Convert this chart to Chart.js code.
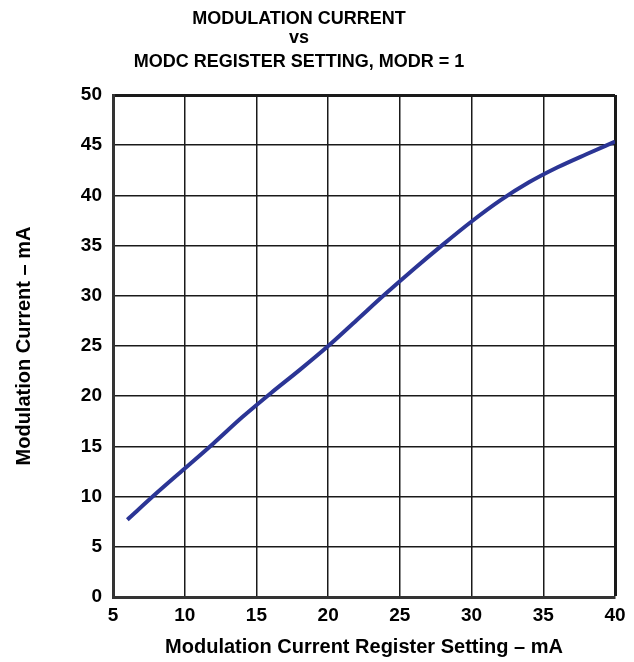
<!DOCTYPE html>
<html>
<head>
<meta charset="utf-8">
<script src="https://cdn.jsdelivr.net/npm/chart.js@4"></script>
<style>
  html, body { margin: 0; padding: 0; background: #fff; }
  #wrap { width: 634px; height: 662px; }
</style>
</head>
<body>
<div id="wrap"><canvas id="c" width="634" height="662"></canvas></div>
<script>
const titleLines = ['MODULATION CURRENT', 'vs', 'MODC REGISTER SETTING, MODR = 1'];
const xAxisTitle = 'Modulation Current Register Setting \u2013 mA';
const yAxisTitle = 'Modulation Current \u2013 mA';
const registerSetting = [6, 8, 10, 12, 14, 16, 18, 20, 22, 24, 26, 28, 30, 32, 34, 36, 38, 40];
const modulationCurrent = [7.7, 10.3, 12.8, 15.3, 17.9, 20.3, 22.6, 25.0, 27.6, 30.2, 32.7, 35.1, 37.4, 39.5, 41.3, 42.8, 44.1, 45.35];
const xMin = 5, xMax = 40, xStep = 5;
const yMin = 0, yMax = 50, yStep = 5;

const FONT = '"Liberation Sans", Arial, Helvetica, sans-serif';

const titlePlugin = {
  id: 'customTitle',
  afterDraw(chart) {
    const ctx = chart.ctx;
    ctx.save();
    ctx.fillStyle = '#000';
    ctx.font = 'bold 18px ' + FONT;
    ctx.textAlign = 'center';
    ctx.textBaseline = 'alphabetic';
    const baselines = [24, 43, 66.5];
    titleLines.forEach((t, i) => ctx.fillText(t, 299, baselines[i]));
    ctx.restore();
  }
};

const points = registerSetting.map((x, i) => ({ x: x, y: modulationCurrent[i] }));

new Chart(document.getElementById('c'), {
  type: 'line',
  data: {
    datasets: [{
      data: points,
      borderColor: '#2b3595',
      borderWidth: 4,
      pointRadius: 0,
      tension: 0.4,
      cubicInterpolationMode: 'monotone',
      fill: false
    }]
  },
  options: {
    responsive: false,
    animation: false,
    devicePixelRatio: 1,
    layout: { padding: { top: 95, right: 19, left: 0, bottom: 0 } },
    plugins: { legend: { display: false }, title: { display: false }, tooltip: { enabled: false } },
    scales: {
      x: {
        type: 'linear',
        min: xMin, max: xMax,
        afterFit(s) { s.height = 65; },
        ticks: {
          stepSize: xStep,
          color: '#000',
          padding: 7,
          font: { family: FONT, size: 19, weight: 'bold' }
        },
        grid: {
          color: '#1a1a1a',
          drawTicks: false,
          lineWidth: c => (c.tick && c.tick.value === xMax) ? 3 : 1.5
        },
        border: { display: true, color: '#333', width: 3 },
        title: {
          display: true,
          text: xAxisTitle,
          color: '#000',
          padding: { top: 0, bottom: 3 },
          font: { family: FONT, size: 20, weight: 'bold' }
        }
      },
      y: {
        type: 'linear',
        min: yMin, max: yMax,
        afterFit(s) { s.width = 113; },
        ticks: {
          stepSize: yStep,
          color: '#000',
          padding: 11,
          font: { family: FONT, size: 19, weight: 'bold' }
        },
        grid: {
          color: '#1a1a1a',
          drawTicks: false,
          lineWidth: c => (c.tick && c.tick.value === yMax) ? 3 : 1.5
        },
        border: { display: true, color: '#333', width: 3 },
        title: {
          display: true,
          text: yAxisTitle,
          color: '#000',
          padding: { top: 12, bottom: 0 },
          font: { family: FONT, size: 20, weight: 'bold' }
        }
      }
    }
  },
  plugins: [titlePlugin]
});
</script>
</body>
</html>
